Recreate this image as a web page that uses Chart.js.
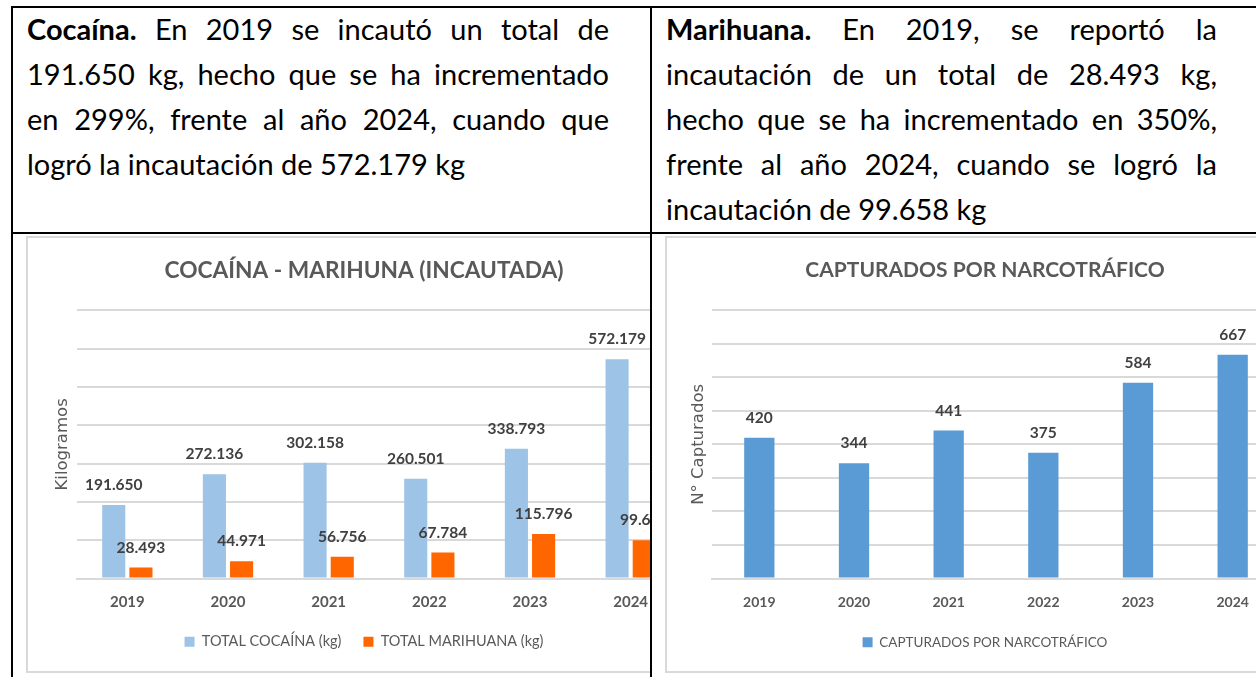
<!DOCTYPE html>
<html lang="es">
<head>
<meta charset="utf-8">
<title>Cocaína, marihuana y capturados</title>
<script src="https://cdn.jsdelivr.net/npm/chart.js@4.4.1/dist/chart.umd.min.js"></script>
<style>
  html, body { margin: 0; padding: 0; background: #fff; }
  body { position: relative; width: 1256px; height: 677px; overflow: hidden; font-family: Lato, "Open Sans", sans-serif; }
  .rule { position: absolute; background: #000; }
  .cell { position: absolute; top: 6px; font-size: 29px; line-height: 45px; color: #000; }
  .cell div { white-space: nowrap; text-align: justify; text-align-last: justify; }
  .cell div.last { text-align: left; text-align-last: left; }
  .clip { position: absolute; overflow: hidden; top: 234px; height: 443px; }
  .box { position: absolute; top: 2px; height: 437px; border: 2px solid #d9d9d9; box-sizing: border-box; background: #fff; }
  .box > div { position: relative; width: 100%; height: 100%; }
</style>
</head>
<body>
<div class="rule" style="left:11px; top:6px; width:1245px; height:2px"></div>
<div class="rule" style="left:11px; top:6px; width:2px; height:671px"></div>
<div class="rule" style="left:650px; top:6px; width:2px; height:671px"></div>
<div class="rule" style="left:11px; top:232px; width:1245px; height:2px"></div>

<div class="cell" style="left:27px; width:582px">
  <div><b>Cocaína.</b> En 2019 se incautó un total de</div>
  <div>191.650 kg, hecho que se ha incrementado</div>
  <div>en 299%, frente al año 2024, cuando que</div>
  <div class="last">logró la incautación de 572.179 kg</div>
</div>
<div class="cell" style="left:666px; width:551px">
  <div><b>Marihuana.</b> En 2019, se reportó la</div>
  <div>incautación de un total de 28.493 kg,</div>
  <div>hecho que se ha incrementado en 350%,</div>
  <div>frente al año 2024, cuando se logró la</div>
  <div class="last">incautación de 99.658 kg</div>
</div>

<div class="clip" style="left:13px; width:637px">
  <div class="box" style="left:13px; width:676px"><div><canvas id="chartIncautada"></canvas></div></div>
</div>
<div class="clip" style="left:652px; width:604px">
  <div class="box" style="left:13px; width:640px"><div><canvas id="chartCapturados"></canvas></div></div>
</div>

<script>
var years = ['2019', '2020', '2021', '2022', '2023', '2024'];
var cocaina = [191650, 272136, 302158, 260501, 338793, 572179];
var marihuana = [28493, 44971, 56756, 67784, 115796, 99658];
var capturados = [420, 344, 441, 375, 584, 667];

var fontMain = 'Lato, "Open Sans", sans-serif';
var gray = '#595959';

// 191650 -> "191.650"
function miles(v) {
	return String(v).replace(/\B(?=(\d{3})+(?!\d))/g, '.');
}

// draws the value over each bar
function valueLabels(fmt) {
	return {
		id: 'valueLabels',
		afterDatasetsDraw: function(chart) {
			var ctx = chart.ctx;
			ctx.save();
			ctx.font = 'bold 15.5px ' + fontMain;
			ctx.fillStyle = '#404040';
			ctx.textAlign = 'center';
			ctx.textBaseline = 'middle';
			chart.data.datasets.forEach(function(ds, i) {
				chart.getDatasetMeta(i).data.forEach(function(bar, j) {
					ctx.fillText(fmt(ds.data[j]), bar.x, bar.y - 20);
				});
			});
			ctx.restore();
		}
	};
}

// empty axis on the right, only keeps space so title and legend stay centred
function spacer(w) {
	return {
		position: 'right',
		grid: { display: false, drawTicks: false },
		ticks: { display: false },
		border: { display: false },
		afterFit: function(s) { s.width = w; }
	};
}

Chart.defaults.font.family = fontMain;
Chart.defaults.color = gray;

new Chart(document.getElementById('chartIncautada'), {
	type: 'bar',
	data: {
		labels: years,
		datasets: [
			{ label: 'TOTAL COCAÍNA (kg)', data: cocaina, backgroundColor: '#9dc3e6', categoryPercentage: 0.54, barPercentage: 0.85 },
			{ label: 'TOTAL MARIHUANA (kg)', data: marihuana, backgroundColor: '#ff6600', categoryPercentage: 0.54, barPercentage: 0.85 }
		]
	},
	options: {
		responsive: true,
		maintainAspectRatio: false,
		animation: false,
		layout: { padding: { left: 0, right: 0, top: 0, bottom: 12 } },
		plugins: {
			title: { display: true, text: 'COCAÍNA - MARIHUNA (INCAUTADA)', color: gray, font: { size: 22.7, weight: 'bold' }, padding: { top: 19, bottom: 26 } },
			legend: { position: 'bottom', labels: { boxWidth: 10, boxHeight: 10, padding: 22, color: gray, font: { size: 14.5 } } },
			tooltip: { enabled: false }
		},
		scales: {
			x: {
				grid: { display: false, drawTicks: false },
				border: { color: '#d9d9d9', width: 2 },
				ticks: { color: gray, padding: 15, font: { size: 15, weight: 'bold' } },
				afterFit: function(s) { s.height = 34; }
			},
			y: {
				min: 0, max: 700000,
				ticks: { display: false, stepSize: 100000 },
				grid: { color: '#d9d9d9', lineWidth: 2, drawTicks: false },
				border: { display: false },
				title: { display: true, text: 'Kilogramos', color: gray, font: { family: '"DejaVu Sans", sans-serif', size: 16.5 }, padding: { top: 25 } },
				afterFit: function(s) { s.width = 49; }
			},
			pad: spacer(19)
		}
	},
	plugins: [valueLabels(miles)]
});

new Chart(document.getElementById('chartCapturados'), {
	type: 'bar',
	data: {
		labels: years,
		datasets: [
			{ label: 'CAPTURADOS POR NARCOTRÁFICO', data: capturados, backgroundColor: '#5b9bd5', categoryPercentage: 0.8, barPercentage: 0.4 }
		]
	},
	options: {
		responsive: true,
		maintainAspectRatio: false,
		animation: false,
		layout: { padding: { left: 0, right: 0, top: 0, bottom: 12 } },
		plugins: {
			title: { display: true, text: 'CAPTURADOS POR NARCOTRÁFICO', color: gray, font: { size: 21, weight: 'bold' }, padding: { top: 20, bottom: 27 } },
			legend: { position: 'bottom', labels: { boxWidth: 10, boxHeight: 10, padding: 22, color: gray, font: { size: 13.5 } } },
			tooltip: { enabled: false }
		},
		scales: {
			x: {
				grid: { display: false, drawTicks: false },
				border: { color: '#d9d9d9', width: 2 },
				ticks: { color: gray, padding: 16, font: { size: 14, weight: 'bold' } },
				afterFit: function(s) { s.height = 35; }
			},
			y: {
				min: 0, max: 800,
				ticks: { display: false, stepSize: 100 },
				grid: { color: '#d9d9d9', lineWidth: 2, drawTicks: false },
				border: { display: false },
				title: { display: true, text: 'N° Capturados', color: gray, font: { family: '"DejaVu Sans", sans-serif', size: 16.5 }, padding: { top: 22 } },
				afterFit: function(s) { s.width = 45; }
			},
			pad: spacer(23)
		}
	},
	plugins: [valueLabels(String)]
});
</script>
</body>
</html>
